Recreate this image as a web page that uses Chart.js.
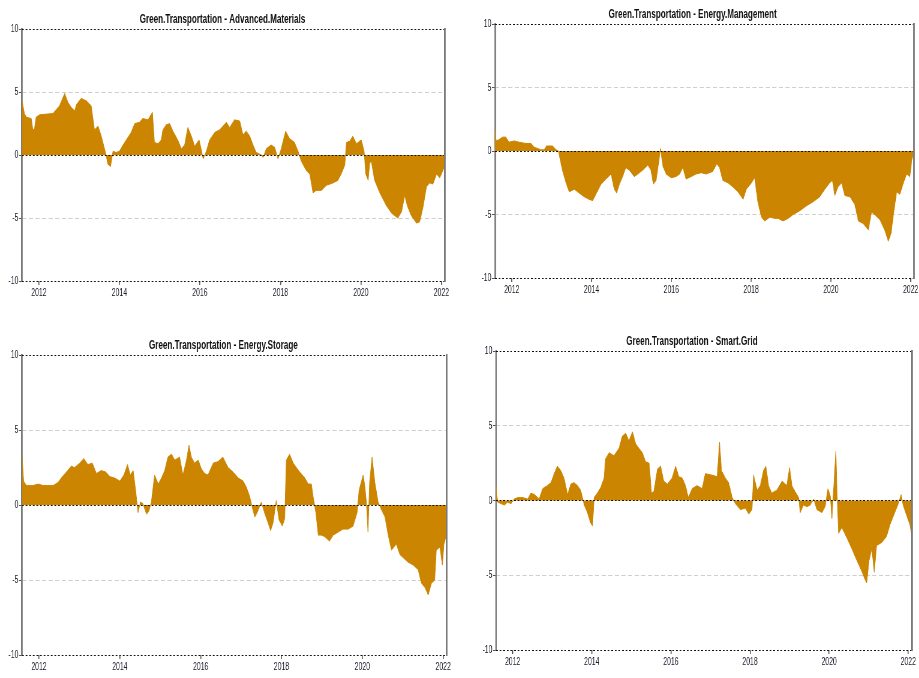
<!DOCTYPE html>
<html>
<head>
<meta charset="utf-8">
<script src="https://cdn.jsdelivr.net/npm/chart.js@4.4.0/dist/chart.umd.min.js"></script>
<style>
body { margin:0; background:#fff; width:919px; height:678px; position:relative; overflow:hidden; }
.panel { position:absolute; }
/* the original plot is squeezed sideways, so every canvas is drawn wide and squeezed too */
.panel canvas { display:block; transform:scaleX(0.6); transform-origin:0 0; }
</style>
</head>
<body>
<div class="panel" style="left:0px;top:11px"><canvas id="c1" width="755" height="290"></canvas></div>
<div class="panel" style="left:471px;top:6px"><canvas id="c2" width="747" height="292"></canvas></div>
<div class="panel" style="left:0px;top:337px"><canvas id="c3" width="758" height="338"></canvas></div>
<div class="panel" style="left:472px;top:333px"><canvas id="c4" width="743" height="337"></canvas></div>
<script>

var SQUEEZE = 0.6;

var yearTicks = [2012, 2014, 2016, 2018, 2020, 2022];
var valueTicks = [-10, -5, 0, 5, 10];
var titles = [
    'Green.Transportation - Advanced.Materials',
    'Green.Transportation - Energy.Management',
    'Green.Transportation - Energy.Storage',
    'Green.Transportation - Smart.Grid'
];

// Advanced.Materials
var amYears = [2011.57, 2011.60, 2011.64, 2011.69, 2011.81, 2011.85, 2011.89, 2011.93, 2012.02, 2012.35,
    2012.43, 2012.51, 2012.64, 2012.72, 2012.80, 2012.89, 2012.93, 2013.05, 2013.18, 2013.30,
    2013.38, 2013.47, 2013.55, 2013.63, 2013.67, 2013.71, 2013.78, 2013.84, 2013.92, 2014.00,
    2014.09, 2014.17, 2014.29, 2014.38, 2014.50, 2014.58, 2014.71, 2014.82, 2014.87, 2014.96,
    2015.04, 2015.08, 2015.16, 2015.25, 2015.33, 2015.45, 2015.54, 2015.62, 2015.70, 2015.79,
    2015.87, 2015.98, 2016.03, 2016.08, 2016.16, 2016.24, 2016.37, 2016.49, 2016.66, 2016.74,
    2016.86, 2016.99, 2017.07, 2017.15, 2017.24, 2017.32, 2017.40, 2017.53, 2017.57, 2017.65,
    2017.77, 2017.86, 2017.94, 2018.02, 2018.13, 2018.23, 2018.35, 2018.44, 2018.52, 2018.64,
    2018.73, 2018.81, 2018.89, 2019.02, 2019.14, 2019.31, 2019.43, 2019.51, 2019.60, 2019.64,
    2019.72, 2019.80, 2019.89, 2020.01, 2020.08, 2020.12, 2020.18, 2020.22, 2020.26, 2020.34,
    2020.47, 2020.63, 2020.76, 2020.92, 2021.01, 2021.09, 2021.15, 2021.25, 2021.38, 2021.46,
    2021.54, 2021.63, 2021.71, 2021.79, 2021.88, 2021.96, 2022.04, 2022.09];
var amValues = [4.5, 4.0, 3.3, 3.0, 2.9, 2.0, 2.1, 3.0, 3.2, 3.3,
    3.6, 3.9, 4.9, 4.2, 3.8, 3.5, 4.0, 4.5, 4.3, 3.9,
    2.0, 2.3, 1.5, 0.5, 0.0, -0.7, -0.9, 0.3, 0.2, 0.3,
    0.8, 1.2, 1.8, 2.5, 2.6, 2.9, 2.8, 3.4, 1.0, 0.9,
    1.2, 2.0, 2.4, 2.5, 1.9, 1.2, 0.5, 0.8, 2.2, 1.5,
    0.7, 1.2, 0.5, -0.3, 0.3, 1.2, 1.8, 2.0, 2.6, 2.2,
    2.8, 2.7, 1.6, 1.9, 1.5, 0.8, 0.2, 0.0, -0.2, 0.5,
    0.8, 0.6, -0.3, 0.5, 1.9, 1.3, 1.0, 0.3, -0.5, -1.2,
    -1.5, -3.0, -2.8, -2.8, -2.4, -2.2, -2.0, -1.5, -0.8, 1.0,
    1.1, 1.5, 0.9, 1.2, 0.3, -1.5, -2.0, -0.6, -0.5, -2.0,
    -3.0, -4.0, -4.6, -5.0, -4.5, -3.2, -4.0, -4.8, -5.4, -5.3,
    -4.2, -2.5, -2.2, -2.3, -1.5, -1.8, -1.2, -0.8];

// Energy.Management
var emYears = [2011.58, 2011.61, 2011.68, 2011.77, 2011.85, 2011.93, 2012.06, 2012.18, 2012.35, 2012.48,
    2012.56, 2012.65, 2012.73, 2012.81, 2012.87, 2013.02, 2013.11, 2013.17, 2013.27, 2013.36,
    2013.44, 2013.57, 2013.69, 2013.82, 2013.94, 2014.03, 2014.11, 2014.24, 2014.36, 2014.49,
    2014.57, 2014.63, 2014.70, 2014.78, 2014.86, 2014.95, 2015.07, 2015.16, 2015.28, 2015.41,
    2015.49, 2015.55, 2015.62, 2015.70, 2015.73, 2015.79, 2015.87, 2016.00, 2016.12, 2016.21,
    2016.29, 2016.37, 2016.50, 2016.62, 2016.75, 2016.87, 2017.04, 2017.14, 2017.21, 2017.29,
    2017.42, 2017.54, 2017.67, 2017.80, 2017.88, 2018.01, 2018.09, 2018.17, 2018.26, 2018.34,
    2018.47, 2018.59, 2018.68, 2018.80, 2018.93, 2019.05, 2019.22, 2019.39, 2019.55, 2019.72,
    2019.85, 2019.97, 2020.04, 2020.10, 2020.18, 2020.27, 2020.35, 2020.48, 2020.60, 2020.69,
    2020.81, 2020.94, 2021.02, 2021.10, 2021.23, 2021.36, 2021.44, 2021.51, 2021.56, 2021.65,
    2021.73, 2021.82, 2021.90, 2021.98, 2022.05, 2022.09];
var emValues = [1.7, 0.8, 0.9, 1.1, 1.1, 0.7, 0.8, 0.7, 0.6, 0.6,
    0.3, 0.2, 0.1, 0.1, 0.4, 0.4, 0.1, 0.0, -1.5, -2.5,
    -3.2, -3.0, -3.3, -3.6, -3.8, -3.9, -3.4, -2.6, -2.2, -1.8,
    -3.0, -3.3, -2.6, -2.0, -1.3, -1.5, -2.0, -1.8, -1.5, -1.1,
    -1.5, -2.6, -2.3, -0.5, 0.2, -1.2, -1.8, -2.1, -2.0, -1.8,
    -1.3, -2.2, -2.0, -1.8, -1.7, -1.8, -1.6, -1.0, -1.3, -2.3,
    -2.5, -2.8, -3.2, -3.8, -3.0, -2.5, -2.1, -4.0, -5.2, -5.5,
    -5.2, -5.3, -5.3, -5.5, -5.3, -5.0, -4.7, -4.3, -4.0, -3.6,
    -3.0, -2.5, -2.3, -3.5, -2.8, -2.5, -3.5, -3.6, -4.2, -5.5,
    -5.7, -6.2, -4.8, -5.0, -5.4, -6.3, -7.1, -6.5, -5.2, -3.2,
    -3.4, -2.5, -1.8, -2.0, -0.2, -1.2];

// Energy.Storage
var esYears = [2011.58, 2011.62, 2011.69, 2011.77, 2011.85, 2011.98, 2012.10, 2012.22, 2012.35, 2012.47,
    2012.55, 2012.68, 2012.80, 2012.88, 2013.01, 2013.11, 2013.21, 2013.32, 2013.42, 2013.54,
    2013.65, 2013.75, 2013.87, 2014.00, 2014.10, 2014.19, 2014.26, 2014.33, 2014.39, 2014.45,
    2014.51, 2014.57, 2014.66, 2014.72, 2014.78, 2014.86, 2014.95, 2015.03, 2015.11, 2015.19,
    2015.28, 2015.36, 2015.48, 2015.56, 2015.65, 2015.71, 2015.77, 2015.85, 2015.94, 2016.02,
    2016.10, 2016.18, 2016.31, 2016.43, 2016.55, 2016.68, 2016.80, 2016.93, 2017.05, 2017.13,
    2017.21, 2017.28, 2017.34, 2017.40, 2017.50, 2017.59, 2017.67, 2017.73, 2017.79, 2017.87,
    2017.94, 2018.02, 2018.08, 2018.12, 2018.20, 2018.29, 2018.37, 2018.45, 2018.58, 2018.66,
    2018.74, 2018.78, 2018.85, 2018.91, 2018.99, 2019.07, 2019.19, 2019.28, 2019.40, 2019.52,
    2019.65, 2019.77, 2019.87, 2019.92, 2019.98, 2020.02, 2020.06, 2020.10, 2020.14, 2020.18,
    2020.24, 2020.31, 2020.39, 2020.47, 2020.56, 2020.64, 2020.72, 2020.84, 2020.93, 2021.01,
    2021.13, 2021.26, 2021.38, 2021.46, 2021.55, 2021.63, 2021.71, 2021.79, 2021.83, 2021.92,
    2021.98, 2022.02, 2022.08];
var esValues = [3.3, 1.6, 1.3, 1.3, 1.3, 1.4, 1.3, 1.3, 1.3, 1.5,
    1.8, 2.2, 2.6, 2.5, 2.8, 3.1, 2.7, 2.8, 2.1, 2.3,
    2.2, 1.9, 1.8, 1.6, 2.0, 2.7, 2.0, 2.3, 1.0, -0.5,
    0.2, 0.1, -0.6, -0.4, 0.2, 2.0, 1.4, 1.8, 2.3, 3.2,
    3.4, 3.0, 3.2, 2.0, 3.0, 4.0, 3.2, 2.8, 3.0, 2.4,
    2.1, 2.0, 2.8, 2.9, 3.2, 2.5, 2.2, 1.8, 1.6, 1.2,
    0.6, -0.2, -0.8, -0.5, 0.2, -0.6, -1.2, -1.7, -1.2, 0.3,
    -1.0, -1.4, -0.9, 3.0, 3.4, 2.8, 2.5, 2.2, 1.8, 1.4,
    1.4, 0.6, -0.5, -2.0, -2.0, -2.1, -2.4, -2.0, -1.8, -1.6,
    -1.6, -1.4, -0.5, 1.0, 1.6, 2.0, 1.3, 0.2, -1.8, 1.5,
    3.2, 1.5, 0.2, -0.3, -0.8, -2.0, -3.0, -2.6, -3.3, -3.5,
    -3.8, -4.0, -4.3, -5.2, -5.5, -6.0, -5.2, -5.0, -3.0, -2.8,
    -4.0, -2.6, -2.0];

// Smart.Grid
var sgYears = [2011.58, 2011.62, 2011.71, 2011.79, 2011.87, 2011.96, 2012.04, 2012.13, 2012.25, 2012.38,
    2012.46, 2012.55, 2012.67, 2012.76, 2012.88, 2012.97, 2013.05, 2013.13, 2013.22, 2013.30,
    2013.39, 2013.47, 2013.55, 2013.64, 2013.72, 2013.81, 2013.89, 2013.97, 2014.02, 2014.06,
    2014.14, 2014.23, 2014.31, 2014.35, 2014.44, 2014.56, 2014.69, 2014.77, 2014.86, 2014.94,
    2015.03, 2015.11, 2015.19, 2015.28, 2015.36, 2015.45, 2015.51, 2015.57, 2015.66, 2015.74,
    2015.82, 2015.91, 2016.03, 2016.12, 2016.20, 2016.29, 2016.37, 2016.44, 2016.54, 2016.66,
    2016.79, 2016.87, 2017.04, 2017.17, 2017.23, 2017.28, 2017.38, 2017.46, 2017.55, 2017.63,
    2017.76, 2017.88, 2017.97, 2018.05, 2018.09, 2018.18, 2018.26, 2018.34, 2018.40, 2018.47,
    2018.55, 2018.68, 2018.81, 2018.93, 2019.00, 2019.06, 2019.14, 2019.23, 2019.27, 2019.35,
    2019.44, 2019.52, 2019.61, 2019.69, 2019.82, 2019.90, 2019.97, 2020.03, 2020.07, 2020.13,
    2020.17, 2020.20, 2020.24, 2020.32, 2020.45, 2020.57, 2020.70, 2020.82, 2020.91, 2020.95,
    2021.01, 2021.08, 2021.14, 2021.20, 2021.33, 2021.45, 2021.54, 2021.66, 2021.75, 2021.82,
    2021.87, 2021.96, 2022.04, 2022.08];
var sgValues = [1.0, -0.1, -0.2, -0.3, -0.1, -0.2, 0.1, 0.2, 0.2, 0.1,
    0.5, 0.4, 0.1, 0.8, 1.0, 1.2, 1.8, 2.3, 2.0, 1.5,
    0.4, 1.1, 1.2, 1.0, 0.7, -0.3, -0.8, -1.5, -1.7, 0.2,
    0.5, 0.9, 1.5, 2.8, 3.2, 3.0, 3.5, 4.3, 4.5, 4.0,
    4.6, 3.8, 3.5, 3.2, 2.6, 2.5, 0.5, 0.6, 2.1, 2.3,
    1.3, 1.1, 1.5, 2.3, 1.6, 1.5, 1.0, 0.2, 0.8, 1.0,
    0.8, 1.8, 1.7, 1.6, 3.9, 2.0, 1.5, 1.2, 0.2, -0.2,
    -0.6, -0.5, -0.9, -0.6, 1.7, 0.7, 1.0, 2.0, 2.3, 1.0,
    0.5, 0.7, 1.3, 1.0, 2.2, 1.0, 0.6, 0.2, -0.8, -0.3,
    -0.4, -0.3, 0.1, -0.6, -0.8, -0.4, 0.8, 0.3, -1.2, 1.5,
    3.3, 0.5, -2.2, -1.8, -2.5, -3.2, -4.0, -4.7, -5.3, -5.5,
    -4.0, -3.2, -4.8, -3.0, -2.8, -2.4, -1.6, -0.8, -0.2, 0.4,
    -0.3, -1.0, -1.6, -2.2];

Chart.defaults.font.family = '"Liberation Sans", Arial, sans-serif';

function build_panel(canvas_id, title, years, values, axis_w, pad_right) {
    var points = years.map(function (y, i) { return {x: y, y: values[i]}; });
    var ctx = document.getElementById(canvas_id).getContext('2d');
    var chart = new Chart(ctx, {
        type: 'line',
        data: {
            datasets: [{
                data: points,
                fill: 'origin',
                backgroundColor: '#cc8500',
                borderColor: '#cc8500',
                borderWidth: 1,
                pointRadius: 0,
                tension: 0
            }]
        },
        options: {
            responsive: false,
            animation: false,
            events: [],
            layout: {padding: {left: 0, right: pad_right / SQUEEZE, top: 0, bottom: 0}},
            plugins: {
                legend: {display: false},
                tooltip: {enabled: false},
                title: {
                    display: true,
                    text: title,
                    color: '#111',
                    font: {size: 13.5, weight: 'bold'},
                    padding: {top: 0, bottom: 2}
                }
            },
            scales: {
                x: {
                    type: 'linear',
                    min: 2011.58,
                    max: 2022.09,
                    afterBuildTicks: function (s) { s.ticks = yearTicks.map(function (v) { return {value: v}; }); },
                    afterFit: function (s) { s.height = 20; },
                    ticks: {color: '#1a1a2a', font: {size: 11.5}, padding: 1, maxRotation: 0, autoSkip: false,
                        callback: function (v) { return String(v); }},
                    grid: {drawOnChartArea: false, drawTicks: true, tickLength: 4, color: '#555', lineWidth: 1.6},
                    border: {display: false}
                },
                // left axis: labels, tick marks and the grey +/-5 lines
                y: {
                    weight: 1,
                    min: -10,
                    max: 10,
                    afterBuildTicks: function (s) { s.ticks = valueTicks.map(function (v) { return {value: v}; }); },
                    afterFit: function (s) { s.width = axis_w / SQUEEZE; },
                    ticks: {color: '#1a1a2a', font: {size: 11.5}, padding: 1},
                    grid: {
                        color: function (c) { return (c.tick && Math.abs(c.tick.value) === 5) ? '#cfcfcf' : 'rgba(0,0,0,0)'; },
                        tickColor: '#555', tickLength: 5
                    },
                    border: {display: false, dash: [7, 4]}
                },
                // left frame line, sits right on the plot edge
                yFrame: {
                    weight: 0,
                    position: 'left',
                    min: -10,
                    max: 10,
                    afterFit: function (s) { s.width = 0; },
                    ticks: {display: false},
                    grid: {display: false},
                    border: {color: '#7a7a7a', width: 2.8}
                },
                // right axis: frame line and the black dotted -10 / 0 / 10 lines (over the fill)
                y2: {
                    position: 'right',
                    min: -10,
                    max: 10,
                    afterBuildTicks: function (s) {
                        s.ticks = valueTicks.filter(function (v) { return v % 10 === 0; }).map(function (v) { return {value: v}; });
                    },
                    afterFit: function (s) { s.width = 0; },
                    ticks: {display: false},
                    grid: {color: '#111', drawTicks: false, z: 1},
                    // border has to come after the grid layer, or it lands at x=0
                    border: {color: '#7a7a7a', width: 2.8, dash: [3, 3], z: 2}
                }
            }
        }
    });
    return chart;
}

build_panel('c1', titles[0], amYears, amValues, 22, 8);
build_panel('c2', titles[1], emYears, emValues, 24, 5);
build_panel('c3', titles[2], esYears, esValues, 22, 8);
build_panel('c4', titles[3], sgYears, sgValues, 24, 6);

</script>
</body>
</html>
